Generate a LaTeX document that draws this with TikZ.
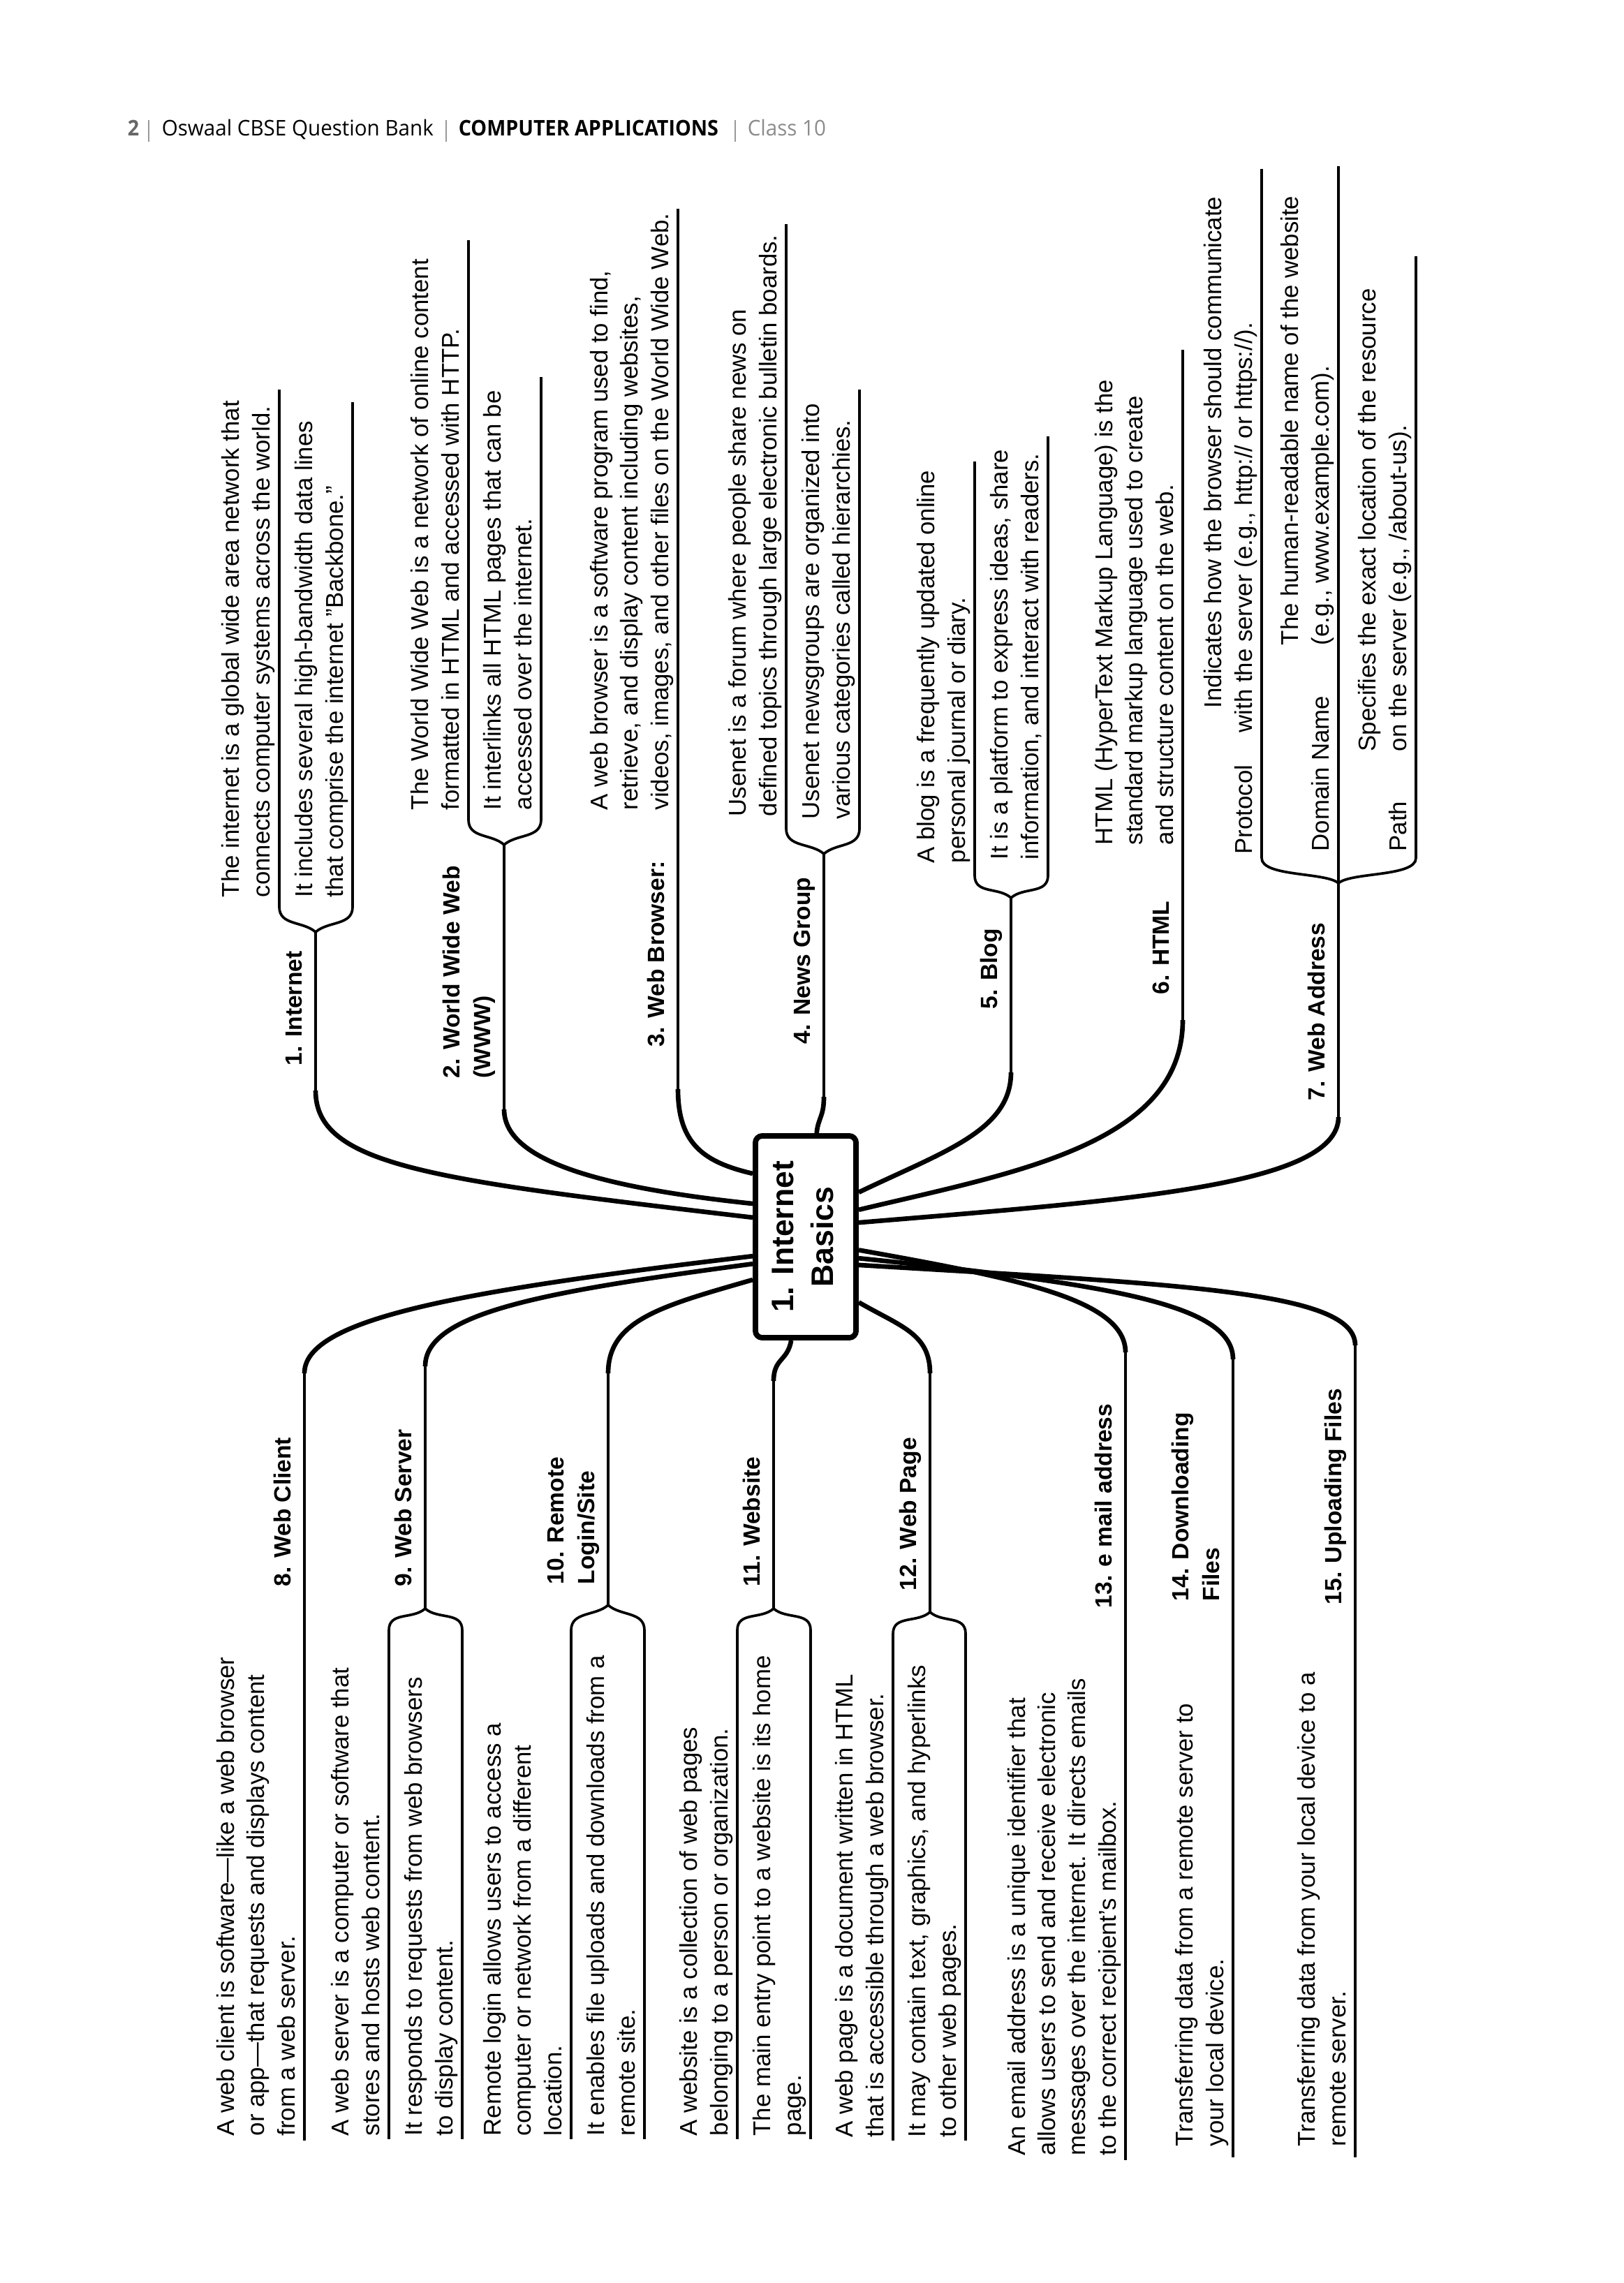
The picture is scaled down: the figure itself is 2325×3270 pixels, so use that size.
\documentclass[tikz,border=0pt]{standalone}
\usepackage{fontspec}
\setmainfont{Liberation Sans}
\newfontfamily\headfont{Open Sans}[FakeStretch=0.958]
\newfontfamily\headboldfont{Open Sans}[FakeStretch=0.93]
\usepackage{graphicx}
\begin{document}
\begin{tikzpicture}[x=0.256pt, y=-0.256pt,
    limb/.style={line width=1.7pt},
    stem/.style={line width=0.95pt},
    rule/.style={line width=0.85pt},
    desc/.style={rotate=90, anchor=south west, inner sep=0pt, align=left,
        font=\fontsize{8.9}{11.1}\selectfont, execute at end node=\strut},
    lbl/.style={desc, font=\fontsize{8.6}{11.1}\selectfont\bfseries},
    head/.style={anchor=base west, inner sep=0pt, font=\headfont\fontsize{7.9}{9.5}\selectfont}]
\useasboundingbox (0,0) rectangle (2325,3270);
\fill[white] (0,0) rectangle (2325,3270);

% running head
\node[head, font=\headboldfont\fontsize{7.9}{9.5}\selectfont\bfseries, text=black!60] (pageno) at (182,195) {2};
\node[head] (book) at (231,195) {Oswaal CBSE Question Bank};
\node[head, font=\headboldfont\fontsize{7.9}{9.5}\selectfont\bfseries] (subject) at (656,195) {COMPUTER APPLICATIONS};
\node[head, text=black!45] (grade) at (1070,195) {Class 10};
\foreach \x in {213,639,1053}
    \draw[black!40, line width=0.5pt] (\x,172) -- (\x,203);

% the centre box
\node[draw, line width=2pt, rounded corners=2.5pt, fill=white, inner sep=0pt,
    minimum width=36.9pt, minimum height=74pt,
    font=\fontsize{11.4}{14.6}\selectfont\bfseries] (core) at (1154,1771.5)
    {\rotatebox{90}{\begin{tabular}{@{}c@{}}1. Internet\\Basics\end{tabular}}};

% stem ends, fork tips and the ends of the rules
\foreach \n/\x/\y in {
    inetS/452/1562, inetT/452/1335, inetA/400/1299, inetAe/400/558, inetB/505/1299, inetBe/505/576,
    wwwS/722/1589, wwwT/722/1210, wwwA/671/1174, wwwAe/671/344, wwwB/775/1174, wwwBe/775/540,
    brwS/971/1560, brwE/971/299,
    newsS/1180/1571, newsT/1180/1223, newsA/1126/1187, newsAe/1126/321, newsB/1231/1187, newsBe/1231/558,
    blogS/1448/1536, blogT/1448/1286, blogA/1396/1254, blogAe/1396/661, blogB/1501/1254, blogBe/1501/625,
    htmlS/1694/1461, htmlE/1694/501,
    addrS/1917/1600, addrT/1917/1265, addrA/1807/1229, addrAe/1807/242, addrE/1917/238, addrB/2028/1229, addrBe/2028/367,
    cliS/436/1967, cliE/436/3066,
    srvS/609/1957, srvT/609/2304, srvA/557/2335, srvAe/557/3064, srvB/662/2335, srvBe/662/3064,
    rlogS/871/1967, rlogT/871/2299, rlogA/818/2335, rlogAe/818/3064, rlogB/923/2335, rlogBe/923/3064,
    siteS/1108/1978, siteT/1108/2304, siteA/1056/2335, siteAe/1056/3064, siteB/1161/2335, siteBe/1161/3064,
    pageS/1332/1967, pageT/1332/2309, pageA/1279/2340, pageAe/1279/3066, pageB/1383/2340, pageBe/1383/3066,
    mailS/1612/1937, mailE/1612/3094,
    downS/1766/1947, downE/1766/3090,
    upS/1941/1927, upE/1941/3090}
    \coordinate (\n) at (\x,\y);

% limbs from the box to the stems
\foreach \a/\cx/\cy/\dx/\dy/\s in {
    160/620/1690/452/1670/inetS, 148/850/1700/722/1660/wwwS, 130/1010/1665/971/1640/brwS,
    84/1172/1600/1180/1600/newsS, 40/1350/1650/1448/1620/blogS, 27/1450/1680/1694/1640/htmlS,
    15/1600/1720/1917/1700/addrS,
    200/650/1850/436/1890/cliS, 207/780/1850/609/1880/srvS, 219/950/1870/871/1890/rlogS,
    262/1128/1950/1108/1945/siteS, 309/1290/1900/1332/1910/pageS, 346/1450/1830/1612/1860/mailS,
    338/1600/1840/1766/1870/downS, 332/1700/1840/1941/1850/upS}
    \draw[limb] (core.\a) .. controls (\cx,\cy) and (\dx,\dy) .. (\s);

% stems
\foreach \s/\t in {inetS/inetT, wwwS/wwwT, brwS/brwE, newsS/newsT, blogS/blogT, htmlS/htmlE, addrS/addrT,
    cliS/cliE, srvS/srvT, rlogS/rlogT, siteS/siteT, pageS/pageT, mailS/mailE, downS/downE, upS/upE}
    \draw[stem] (\s) -- (\t);

% forks: tip / arm end / side / direction
\foreach \t/\e/\h/\v in {inetT/inetA/-1/-1, inetT/inetB/1/-1, wwwT/wwwA/-1/-1, wwwT/wwwB/1/-1,
    newsT/newsA/-1/-1, newsT/newsB/1/-1, blogT/blogA/-1/-1, blogT/blogB/1/-1,
    addrT/addrA/-1/-1, addrT/addrB/1/-1,
    srvT/srvA/-1/1, srvT/srvB/1/1, rlogT/rlogA/-1/1, rlogT/rlogB/1/1,
    siteT/siteA/-1/1, siteT/siteB/1/1, pageT/pageA/-1/1, pageT/pageB/1/1}
    \draw[stem] (\t) .. controls +(\h*18,\v*16) and +(0,-\v*27) .. (\e);

% rules under the texts
\foreach \a/\b in {inetA/inetAe, inetB/inetBe, wwwA/wwwAe, wwwB/wwwBe, newsA/newsAe, newsB/newsBe,
    blogA/blogAe, blogB/blogBe, addrA/addrAe, addrT/addrE, addrB/addrBe,
    srvA/srvAe, srvB/srvBe, rlogA/rlogAe, rlogB/rlogBe, siteA/siteAe, siteB/siteBe, pageA/pageAe, pageB/pageBe}
    \draw[rule] (\a) -- (\b);

% upper half
\node[lbl] (inetL) at (446,1527) {1. Internet};
\node[desc] (inetD1) at (400,1286) {The internet is a global wide area network that\\connects computer systems across the world.};
\node[desc] (inetD2) at (505,1286) {It includes several high-bandwidth data lines\\that comprise the internet "Backbone."};

\node[lbl] (wwwL) at (716,1545) {2. World Wide Web\\(WWW)};
\node[desc] (wwwD1) at (671,1161) {The World Wide Web is a network of online content\\formatted in HTML and accessed with HTTP.};
\node[desc] (wwwD2) at (775,1161) {It interlinks all HTML pages that can be\\accessed over the internet.};

\node[lbl] (brwL) at (965,1500) {3. Web Browser:};
\node[desc] (brwD) at (971,1161) {A web browser is a software program used to find,\\retrieve, and display content including websites,\\videos, images, and other files on the World Wide Web.};

\node[lbl] (newsL) at (1174,1496) {4. News Group};
\node[desc] (newsD1) at (1126,1170) {Usenet is a forum where people share news on\\defined topics through large electronic bulletin boards.};
\node[desc] (newsD2) at (1231,1174) {Usenet newsgroups are organized into\\various categories called hierarchies.};

\node[lbl] (blogL) at (1442,1446) {5. Blog};
\node[desc] (blogD1) at (1396,1237) {A blog is a frequently updated online\\personal journal or diary.};
\node[desc] (blogD2) at (1501,1232) {It is a platform to express ideas, share\\information, and interact with readers.};

\node[lbl] (htmlL) at (1688,1425) {6. HTML};
\node[desc] (htmlD) at (1694,1211) {HTML (HyperText Markup Language) is the\\standard markup language used to create\\and structure content on the web.};

\node[lbl] (addrL) at (1911,1577) {7. Web Address};
\node[desc] (protoL) at (1807,1224) {Protocol};
\node[desc] (protoD) at (1807,1050) {\hspace*{9pt}Indicates how the browser should communicate\\with the server (e.g., http:// or https://).};
\node[desc] (domL) at (1917,1220) {Domain Name};
\node[desc] (domD) at (1917,925) {The human-readable name of the website\\(e.g., www.example.com).};
\node[desc] (pathL) at (2028,1220) {Path};
\node[desc] (pathD) at (2028,1077) {Specifies the exact location of the resource\\on the server (e.g., /about-us).};

% lower half
\node[lbl] (cliL) at (430,2273) {8. Web Client};
\node[desc] (cliD) at (436,3060) {A web client is software---like a web browser\\or app---that requests and displays content\\from a web server.};

\node[lbl] (srvL) at (603,2273) {9. Web Server};
\node[desc] (srvD1) at (557,3060) {A web server is a computer or software that\\stores and hosts web content.};
\node[desc] (srvD2) at (662,3060) {It responds to requests from web browsers\\to display content.};

\node[lbl] (rlogL) at (865,2270) {10. Remote\\Login/Site};
\node[desc] (rlogD1) at (818,3060) {Remote login allows users to access a\\computer or network from a different\\location.};
\node[desc] (rlogD2) at (923,3060) {It enables file uploads and downloads from a\\remote site.};

\node[lbl] (siteL) at (1102,2273) {11. Website};
\node[desc] (siteD1) at (1056,3060) {A website is a collection of web pages\\belonging to a person or organization.};
\node[desc] (siteD2) at (1161,3060) {The main entry point to a website is its home\\page.};

\node[lbl] (pageL) at (1326,2279) {12. Web Page};
\node[desc] (pageD1) at (1279,3062) {A web page is a document written in HTML\\that is accessible through a web browser.};
\node[desc] (pageD2) at (1383,3062) {It may contain text, graphics, and hyperlinks\\to other web pages.};

\node[lbl] (mailL) at (1606,2304) {13. e mail address};
\node[desc] (mailD) at (1612,3088) {An email address is a unique identifier that\\allows users to send and receive electronic\\messages over the internet. It directs emails\\to the correct recipient's mailbox.};

\node[lbl] (downL) at (1760,2294) {14. Downloading\\Files};
\node[desc] (downD) at (1766,3075) {Transferring data from a remote server to\\your local device.};

\node[lbl] (upL) at (1935,2299) {15. Uploading Files};
\node[desc] (upD) at (1941,3075) {Transferring data from your local device to a\\remote server.};
\end{tikzpicture}
\end{document}
